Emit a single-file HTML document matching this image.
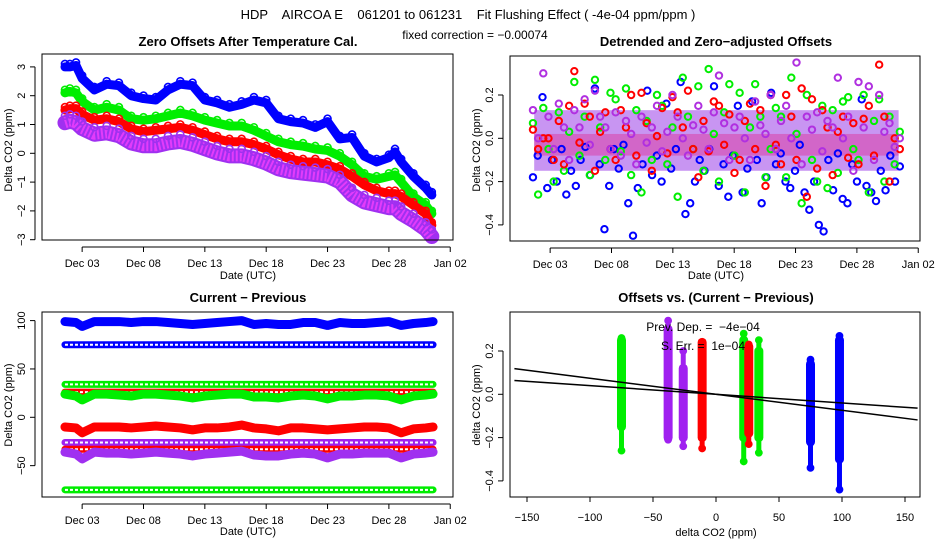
<!DOCTYPE html>
<html><head><meta charset="utf-8">
<style>
body{margin:0;background:#fff;}
svg{display:block;font-family:"Liberation Sans",sans-serif;}
text{white-space:pre;}
</style></head>
<body>
<svg id="c" width="936" height="540" viewBox="0 0 936 540" xmlns="http://www.w3.org/2000/svg">
<text x="468" y="19" text-anchor="middle" font-size="13" xml:space="preserve">HDP    AIRCOA E    061201 to 061231    Fit Flushing Effect ( -4e-04 ppm/ppm )</text>
<text x="475" y="39" text-anchor="middle" font-size="12">fixed correction = −0.00074</text>
</svg>
<script>
// ---------- data ----------
const dateTicks = ["Dec 03","Dec 08","Dec 13","Dec 18","Dec 23","Dec 28","Jan 02"];
const dateTickDays = [3,8,13,18,23,28,33];
const p1Days = [1.6,2,2.5,3,4,5,6,7,8,9,10,11,12,13,14,15,16,17,18,19,20,21,22,23,24,25,26,27,28,28.5,29,30,31,31.5];
const p1Blue = [3.0,3.0,3.05,2.6,2.2,2.4,2.35,2.0,1.9,1.85,2.2,2.4,2.35,1.85,1.75,1.6,1.7,1.85,1.75,1.2,1.1,1.05,0.9,1.1,0.5,0.55,-0.1,-0.3,-0.15,0.05,-0.3,-0.8,-1.2,-1.45];
const p1Green = [2.1,2.15,2.1,1.8,1.5,1.6,1.5,1.2,1.15,1.2,1.3,1.4,1.3,1.15,1.05,0.95,0.95,0.8,0.6,0.4,0.3,0.25,0.15,0.1,-0.1,-0.4,-0.8,-0.9,-0.8,-0.75,-1.0,-1.5,-1.8,-2.1];
const p1Red = [1.5,1.55,1.55,1.35,1.15,1.2,1.1,0.85,0.75,0.8,0.85,0.9,0.8,0.65,0.5,0.4,0.4,0.3,0.15,-0.05,-0.2,-0.3,-0.3,-0.4,-0.55,-0.8,-1.1,-1.3,-1.4,-1.4,-1.5,-1.8,-2.1,-2.5];
const p1Purple = [1.2,1.25,1.2,1.0,0.8,0.85,0.75,0.5,0.4,0.4,0.5,0.55,0.45,0.3,0.15,0.05,0.05,-0.05,-0.2,-0.4,-0.5,-0.55,-0.6,-0.65,-0.85,-1.3,-1.55,-1.65,-1.75,-1.75,-1.95,-2.2,-2.5,-2.75];

const p2Blue = [-0.18,-0.08,0.19,-0.23,-0.1,-0.2,-0.05,-0.26,-0.15,-0.22,-0.1,-0.04,-0.17,0.23,-0.12,-0.42,-0.22,-0.05,-0.14,-0.03,-0.3,-0.45,-0.23,-0.12,0.22,-0.17,-0.08,-0.2,0.16,-0.14,-0.05,0.26,-0.35,-0.3,-0.2,-0.1,-0.15,-0.05,0.24,-0.22,-0.12,-0.27,-0.08,0.15,-0.25,-0.14,0.17,-0.1,-0.3,-0.18,0.21,-0.12,-0.07,-0.2,-0.23,-0.15,-0.03,-0.25,-0.33,-0.2,-0.4,-0.43,-0.1,-0.24,-0.07,-0.28,-0.3,-0.12,-0.2,0.18,-0.22,-0.25,-0.29,-0.15,-0.24,-0.08,-0.2,-0.13];
const p2Green = [0.07,-0.26,0.14,-0.05,-0.2,0.12,-0.15,0.03,0.26,-0.08,0.1,-0.17,0.27,0.05,-0.1,0.21,0.18,-0.06,0.23,-0.17,0.13,-0.25,0.08,-0.1,0.2,0.15,-0.12,0.05,-0.27,0.28,0.1,-0.05,0.24,-0.15,0.32,0.02,-0.2,0.12,0.25,-0.08,0.21,-0.25,0.05,0.25,0.1,-0.18,-0.05,0.14,0.1,-0.18,0.28,0.02,-0.3,0.2,-0.1,-0.2,0.15,-0.23,0.13,-0.16,0.17,0.19,-0.05,-0.1,0.2,-0.25,0.08,0.18,-0.2,0.1,-0.12,0.03];
const p2Red = [0.04,-0.05,0.0,0.0,-0.1,0.08,-0.12,0.15,0.31,-0.02,0.16,0.1,-0.15,0.03,0.12,-0.05,-0.1,0.13,0.05,0.2,-0.08,0.21,0.07,-0.15,0.01,0.14,-0.07,0.19,0.12,0.05,0.22,-0.05,-0.18,0.08,-0.06,0.17,0.15,-0.03,0.11,-0.16,-0.1,0.08,0.16,-0.05,0.13,-0.22,0.2,-0.03,-0.12,0.2,0.1,-0.1,0.23,-0.27,0.18,-0.14,0.13,0.05,-0.17,0.03,0.1,-0.09,0.07,-0.12,0.09,0.15,-0.08,0.34,0.1,-0.2,0.0,-0.05];
const p2Purple = [0.13,0.0,0.3,0.1,-0.05,0.16,0.05,-0.1,0.13,0.05,0.18,-0.03,0.22,0.1,0.05,-0.05,0.12,-0.08,0.08,0.02,-0.12,0.1,-0.02,0.05,0.15,-0.06,0.03,0.2,0.1,0.0,-0.08,0.06,0.15,0.04,-0.05,0.12,0.29,0.07,-0.1,0.05,0.1,0.0,-0.1,0.17,0.06,0.02,0.2,-0.05,0.08,0.15,0.0,0.35,-0.12,0.1,0.04,0.12,-0.06,0.08,0.05,0.28,0.0,0.1,-0.15,0.26,0.05,0.24,-0.1,0.2,0.03,0.07,-0.04,0.0];

const p3Days = [1.6,2.5,3,4,5,6,7,8,9,10,11,12,13,14,15,16,17,18,19,20,21,22,23,24,25,26,27,28,29,30,31,31.6];
const p3Blue = [99,98,94,99,99,99,98,99,99,98,97,96,97,98,99,100,96,97,96,96,98,98,95,98,97,97,98,99,95,97,98,99];
const p3Green = [24,22,18,24,24,23,22,24,24,23,22,20,22,23,24,24,21,21,20,22,23,22,19,22,22,23,23,22,18,22,23,24];
const p3Red = [-10,-11,-16,-10,-10,-10,-11,-10,-9,-10,-11,-13,-11,-11,-10,-8,-11,-12,-14,-11,-11,-12,-13,-12,-11,-10,-10,-11,-16,-12,-11,-10];
const p3Purple = [-36,-38,-43,-36,-37,-37,-38,-37,-36,-37,-38,-40,-38,-37,-36,-35,-39,-40,-40,-38,-37,-38,-42,-38,-38,-37,-37,-37,-42,-38,-37,-36];
const p3RingLevels = [75,34,26,-26,-33,-75];
const p3RingColors = ["#0000ff","#00ee00","#ff0000","#a020f0","#ff0000","#00ee00"];

const p4ColX = [-75,-38,-26,-11,22,26,34,75,98];
const p4ColMin = [-0.26,-0.21,-0.24,-0.25,-0.31,-0.23,-0.27,-0.34,-0.44];
const p4ColMax = [0.26,0.34,0.20,0.24,0.28,0.23,0.25,0.16,0.27];
const p4CoreMin = [-0.15,-0.2,-0.2,-0.2,-0.2,-0.18,-0.2,-0.22,-0.3];
const p4CoreMax = [0.25,0.3,0.12,0.24,0.25,0.22,0.2,0.14,0.25];
const p4ColColor = ["#00ee00","#a020f0","#a020f0","#ff0000","#00ee00","#ff0000","#00ee00","#0000ff","#0000ff"];
const p4FitSlope = -4e-4;
const p4FixedSlope = -0.00074;
const p4XTicks = [-150,-100,-50,0,50,100,150];

// ---------- helpers ----------
const svg = document.getElementById('c');
const NS = "http://www.w3.org/2000/svg";
function mk(tag, attrs, parent){
  const e = document.createElementNS(NS, tag);
  for (const k in attrs) e.setAttribute(k, attrs[k]);
  (parent||svg).appendChild(e);
  return e;
}
function txt(x,y,s,size,anchor,parent,rot,bold){
  const t = mk('text',{x:x,y:y,'font-size':size,'text-anchor':anchor||'middle'},parent);
  if (rot) t.setAttribute('transform','rotate(-90 '+x+' '+y+')');
  if (bold) t.setAttribute('font-weight','bold');
  t.textContent = s;
  return t;
}
function frame(g,x0,y0,x1,y1){
  const r = mk('rect',{x:x0,y:y0,width:x1-x0,height:y1-y0,fill:'none',stroke:'#000','stroke-width':1},g);
  
  
}
function dateAxis(g,xf,yb){
  const ax = mk('g',{},g);
  
  
  mk('line',{x1:xf(dateTickDays[0]),x2:xf(dateTickDays[dateTickDays.length-1]),y1:yb+7,y2:yb+7,stroke:'#000'},ax);
  dateTicks.forEach((lab,i)=>{
    const x = xf(dateTickDays[i]);
    mk('line',{x1:x,x2:x,y1:yb+7,y2:yb+12,stroke:'#000'},ax);
    const t = txt(x,yb+27,lab,11,'middle',ax);
    
    
  });
}
function yAxis(g,yf,ticks,labels,xl){
  const ax = mk('g',{},g);
  
  
  mk('line',{x1:xl-7,x2:xl-7,y1:yf(ticks[0]),y2:yf(ticks[ticks.length-1]),stroke:'#000'},ax);
  ticks.forEach((v,i)=>{
    const y = yf(v);
    mk('line',{x1:xl-12,x2:xl-7,y1:y,y2:y,stroke:'#000'},ax);
    const t = txt(xl-17,y,labels[i],11,'middle',ax,true);
    
    
  });
}
function circ(g,x,y,col,r,sw){
  return mk('circle',{cx:x,cy:y,r:r||3,fill:'none',stroke:col,'stroke-width':sw||1.6},g);
}

// ---------- panel 1 ----------
(function(){
  const g = mk('g',{});  
  const xf = d => 57.6 + (d-1)*12.27;
  const yf = v => 153.3 - v*28.8;
  txt(248,46,'Zero Offsets After Temperature Cal.',13,'middle',g,false,true);
  const series = [[p1Blue,'#0000ff',9,'series-blue',0],[p1Green,'#00ee00',9,'series-green',0],[p1Red,'#ff0000',9,'series-red',0],[p1Purple,'#a030f0',15,'series-purple',4]];
  series.forEach(s=>{
    const sg = mk('g',{},g);
    
    
    const pts = p1Days.map((d,i)=>xf(d)+','+(yf(s[0][i])+s[4])).join(' ');
    mk('polyline',{points:pts,fill:'none',stroke:s[1],'stroke-width':s[2],'stroke-linejoin':'round','stroke-linecap':'round'},sg);
    if (s[4]) mk('polyline',{points:pts,fill:'none',stroke:'#ff40ff','stroke-width':s[2]-4,'stroke-dasharray':'2 2','stroke-linejoin':'round',opacity:0.7},sg);
    p1Days.forEach((d,i)=>{ const c=circ(sg,xf(d),yf(s[0][i])-3,s[1],3.5,1.6);
        });
  });
  frame(g,42,54,453,240);
  dateAxis(g,xf,240);
  yAxis(g,yf,[-3,-2,-1,0,1,2,3],['−3','−2','−1','0','1','2','3'],42);
  txt(248,279,'Date (UTC)',11,'middle',g);
  txt(12,150,'Delta CO2 (ppm)',11,'middle',g,true);
})();

// ---------- panel 2 ----------
(function(){
  const g = mk('g',{});  
  const xf = d => 525.6 + (d-1)*12.27;
  const yf = v => 138.3 - v*216.5;
  txt(716,46,'Detrended and Zero−adjusted Offsets',13,'middle',g,false,true);
  const band = mk('rect',{x:xf(1.7),y:yf(0.13),width:xf(31.4)-xf(1.7),height:yf(-0.15)-yf(0.13),fill:'#9a3ee8',opacity:0.55},g);
   
  const band2 = mk('rect',{x:xf(1.7),y:yf(0.02),width:xf(31.4)-xf(1.7),height:yf(-0.08)-yf(0.02),fill:'#e0208a',opacity:0.4},g);
   
  const series = [[p2Blue,'#0000ff','series-blue'],[p2Green,'#00ee00','series-green'],[p2Red,'#ff0000','series-red'],[p2Purple,'#b030e0','series-purple']];
  series.forEach(s=>{
    const sg = mk('g',{},g);
    
    
    const n = s[0].length;
    s[0].forEach((v,i)=>{
      const d = 1.6 + i*(29.9/(n-1));
      const c = circ(sg,xf(d),yf(v),s[1],3.2,2);
       
    });
  });
  frame(g,510,56,920,241);
  dateAxis(g,xf,241);
  yAxis(g,yf,[-0.4,-0.2,0,0.2],['−0.4','−0.2','0.0','0.2'],510);
  txt(716,279,'Date (UTC)',11,'middle',g);
  txt(480,150,'Delta CO2 (ppm)',11,'middle',g,true);
})();

// ---------- panel 3 ----------
(function(){
  const g = mk('g',{});  
  const xf = d => 57.6 + (d-1)*12.27;
  const yf = v => 417.3 - v*0.967;
  txt(248,302,'Current − Previous',13,'middle',g,false,true);
  p3RingLevels.forEach((lv,k)=>{
    const rg = mk('g',{},g);
    
    
    mk('line',{x1:xf(1.6),x2:xf(31.6),y1:yf(lv),y2:yf(lv),stroke:p3RingColors[k],'stroke-width':7,'stroke-linecap':'round'},rg);
    mk('line',{x1:xf(1.6),x2:xf(31.6),y1:yf(lv),y2:yf(lv),stroke:'#fff','stroke-width':2,'stroke-dasharray':'3 2'},rg);
  });
  const series = [[p3Blue,'#0000ff','series-blue'],[p3Green,'#00ee00','series-green'],[p3Red,'#ff0000','series-red'],[p3Purple,'#a030f0','series-purple']];
  series.forEach(s=>{
    const sg = mk('g',{},g);
    
    
    const pts = p3Days.map((d,i)=>xf(d)+','+yf(s[0][i])).join(' ');
    mk('polyline',{points:pts,fill:'none',stroke:s[1],'stroke-width':9,'stroke-linejoin':'round','stroke-linecap':'round'},sg);
  });
  frame(g,42,312,453,497);
  dateAxis(g,xf,497);
  yAxis(g,yf,[-50,0,50,100],['−50','0','50','100'],42);
  txt(248,535,'Date (UTC)',11,'middle',g);
  txt(12,405,'Delta CO2 (ppm)',11,'middle',g,true);
})();

// ---------- panel 4 ----------
(function(){
  const g = mk('g',{});  
  const xf = v => 716 + v*1.26;
  const yf = v => 394.3 - v*216.5;
  txt(716,302,'Offsets vs. (Current − Previous)',13,'middle',g,false,true);
  p4ColX.forEach((cx,i)=>{
    const cg = mk('g',{},g);
    
    
    const x = xf(cx), col = p4ColColor[i];
    mk('line',{x1:x,x2:x,y1:yf(p4ColMax[i]),y2:yf(p4ColMin[i]),stroke:col,'stroke-width':5,'stroke-linecap':'round'},cg);
    mk('line',{x1:x,x2:x,y1:yf(p4CoreMax[i]),y2:yf(p4CoreMin[i]),stroke:col,'stroke-width':9,'stroke-linecap':'round'},cg);
    circ(cg,x,yf(p4ColMax[i]),col,3,1.8);
    circ(cg,x,yf(p4ColMin[i]),col,3,1.8);
  });
  const xa = -160, xb = 160;
  const l1 = mk('line',{x1:xf(xa),y1:yf(xa*p4FitSlope),x2:xf(xb),y2:yf(xb*p4FitSlope),stroke:'#000','stroke-width':1.5},g);
   
  const l2 = mk('line',{x1:xf(xa),y1:yf(xa*p4FixedSlope),x2:xf(xb),y2:yf(xb*p4FixedSlope),stroke:'#000','stroke-width':1.5},g);
   
  txt(703,331,'Prev. Dep. =  −4e−04',12,'middle',g);
  txt(703,350,'S. Err. =  1e−04',12,'middle',g);
  frame(g,510,312,920,497);
  const ax = mk('g',{},g);
  
  
  mk('line',{x1:xf(-150),x2:xf(150),y1:497,y2:497,stroke:'#000'},ax);
  p4XTicks.forEach(v=>{
    mk('line',{x1:xf(v),x2:xf(v),y1:497,y2:502,stroke:'#000'},ax);
    txt(xf(v),521,String(v).replace('-','−'),11,'middle',ax);
  });
  yAxis(g,yf,[-0.4,-0.2,0,0.2],['−0.4','−0.2','0.0','0.2'],510);
  txt(716,536,'delta CO2 (ppm)',11,'middle',g);
  txt(480,405,'delta CO2 (ppm)',11,'middle',g,true);
})();
</script>
</body></html>
